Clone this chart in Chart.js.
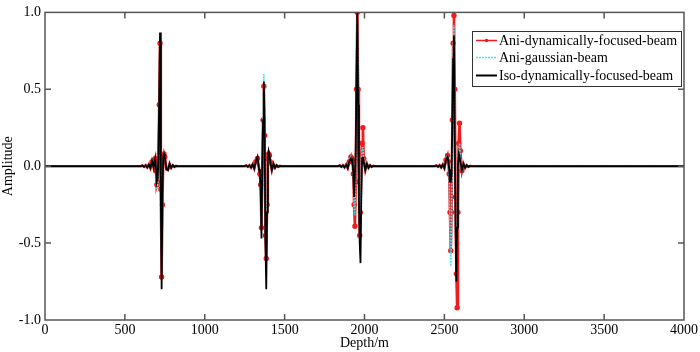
<!DOCTYPE html>
<html><head><meta charset="utf-8">
<script src="https://cdn.jsdelivr.net/npm/chart.js@4.4.1/dist/chart.umd.min.js"></script>
<style>html,body{margin:0;padding:0;background:#fff}#wrap{width:700px;height:352px}</style>
</head><body><div id="wrap"><canvas id="c" width="700" height="352"></canvas></div>
<script>
const depth = [0,
 600,610,620,630,640,650,660,670,680,685,690,695,700,705,710,715,720,725,730,735,740,745,750,755,760,770,780,790,800,810,820,830,840,
 1250,1260,1270,1280,1290,1300,1310,1320,1330,1335,1340,1345,1350,1355,1360,1365,1370,1375,1380,1385,1390,1395,1400,1405,1410,1420,1430,1440,1450,1460,1470,1480,1490,
 1835,1845,1855,1865,1875,1885,1895,1905,1915,1920,1925,1930,1935,1940,1945,1950,1955,1960,1965,1970,1975,1980,1985,1990,1995,2005,2015,2025,2035,2045,2055,2065,2075,
 2440,2450,2460,2470,2480,2490,2500,2510,2520,2525,2530,2535,2540,2545,2550,2555,2560,2565,2570,2575,2580,2585,2590,2595,2600,2610,2620,2630,2640,2650,2660,2670,2680,
 4000];

const isoDynamic = [0,
 0,0.004,-0.004,0.006,-0.008,0.01,-0.012,0.035,-0.01,0.03,0.05,-0.02,-0.1,-0.08,0.05,0.45,0.87,-0.2,-0.8,-0.2,0.06,0.08,0.06,0.02,-0.02,-0.025,0.015,-0.01,0.006,-0.004,0.002,0,0,
 0,0.004,-0.004,0.006,-0.008,0.012,-0.015,0.03,0.06,0.02,-0.02,-0.05,-0.15,-0.47,0.0,0.3,0.55,0.2,-0.5,-0.8,-0.3,0.05,0.1,0.08,0.03,-0.025,0.015,-0.01,0.006,-0.004,0.002,0,0,
 0,0.004,-0.004,0.006,-0.008,0.01,-0.012,0.03,0.05,0.03,0.04,-0.05,-0.2,-0.2,0.1,0.6,1.0,0.4,-0.2,-0.5,-0.63,-0.2,0.05,0.06,0.03,-0.025,0.015,-0.01,0.006,-0.004,0.002,0,0,
 0,0.004,-0.004,0.006,-0.008,0.01,-0.012,0.04,0.06,0.03,-0.02,-0.1,-0.1,-0.05,0.3,0.7,0.85,0.2,-0.4,-0.75,-0.4,0.0,0.08,0.06,0.03,-0.025,0.015,-0.01,0.006,-0.004,0.002,0,0,
 0];

const aniDynamic = [0,
 0,0.004,-0.004,0.006,-0.008,0.01,-0.012,0.03,-0.01,0.03,0.05,-0.03,-0.12,-0.1,0.04,0.4,0.8,-0.15,-0.72,-0.25,0.05,0.08,0.06,0.02,-0.02,-0.025,0.015,-0.01,0.006,-0.004,0.002,0,0,
 0,0.004,-0.004,0.006,-0.008,0.012,-0.015,0.03,0.05,0.02,-0.02,-0.05,-0.12,-0.4,0.0,0.3,0.52,0.2,-0.45,-0.6,-0.25,0.05,0.08,0.07,0.03,-0.025,0.015,-0.01,0.006,-0.004,0.002,0,0,
 0,0.004,-0.004,0.006,-0.008,0.01,-0.012,0.03,0.06,0.03,0.04,-0.05,-0.25,-0.39,-0.1,0.5,1.0,0.5,-0.1,-0.45,-0.3,0.05,0.15,0.25,0.05,-0.025,0.015,-0.01,0.006,-0.004,0.002,0,0,
 0,0.004,-0.004,0.006,-0.008,0.01,-0.012,0.04,0.07,0.03,-0.05,-0.3,-0.55,-0.3,0.3,0.8,0.98,0.5,-0.2,-0.7,-0.92,-0.3,0.15,0.28,0.1,-0.03,0.015,-0.01,0.006,-0.004,0.002,0,0,
 0];

const aniGaussian = [0,
 0,0.004,-0.004,0.006,-0.008,0.01,-0.012,0.03,-0.01,0.03,0.04,-0.04,-0.15,-0.12,0.03,0.38,0.78,-0.1,-0.7,-0.25,0.05,0.08,0.06,0.02,-0.02,-0.025,0.015,-0.01,0.006,-0.004,0.002,0,0,
 0,0.004,-0.004,0.006,-0.008,0.012,-0.015,0.03,0.05,0.02,-0.02,-0.05,-0.12,-0.38,0.02,0.35,0.6,0.22,-0.4,-0.6,-0.2,0.05,0.08,0.07,0.03,-0.025,0.015,-0.01,0.006,-0.004,0.002,0,0,
 0,0.004,-0.004,0.006,-0.008,0.01,-0.012,0.03,0.06,0.03,0.04,-0.05,-0.28,-0.32,-0.05,0.55,0.95,0.5,-0.1,-0.4,-0.3,0.05,0.12,0.12,0.04,-0.025,0.015,-0.01,0.006,-0.004,0.002,0,0,
 0,0.004,-0.004,0.006,-0.008,0.01,-0.012,0.04,0.07,0.03,-0.08,-0.4,-0.65,-0.45,0.2,0.75,0.92,0.45,-0.2,-0.55,-0.6,-0.2,0.1,0.15,0.06,-0.03,0.015,-0.01,0.006,-0.004,0.002,0,0,
 0];

const seriesNames = ['Ani-dynamically-focused-beam','Ani-gaussian-beam','Iso-dynamically-focused-beam'];
const xTicks = [0,500,1000,1500,2000,2500,3000,3500,4000];
const yTicks = [-1.0,-0.5,0.0,0.5,1.0];

const FONT = "'Liberation Serif','Times New Roman',serif";
const RED = '#ee1c1c', CYAN = '#3fe3f0', BLACK = '#000000';
const pts = v => depth.map((d,i)=>({x:d,y:v[i]}));

const framePlugin = {
  id:'frame',
  afterDraw(chart){
    const {ctx, chartArea:a, scales:{x,y}} = chart;
    ctx.save();
    ctx.strokeStyle = '#555';
    ctx.lineWidth = 1.5;
    const tl = 6;
    ctx.beginPath();
    xTicks.slice(1,-1).forEach(v=>{
      const px = x.getPixelForValue(v);
      ctx.moveTo(px,a.bottom); ctx.lineTo(px,a.bottom-tl);
      ctx.moveTo(px,a.top); ctx.lineTo(px,a.top+tl);
    });
    yTicks.slice(1,-1).forEach(v=>{
      const py = y.getPixelForValue(v);
      ctx.moveTo(a.left,py); ctx.lineTo(a.left+tl,py);
      ctx.moveTo(a.right,py); ctx.lineTo(a.right-tl,py);
    });
    ctx.stroke();
    ctx.strokeRect(a.left,a.top,a.right-a.left,a.bottom-a.top);
    // legend
    const lx=472, ly=31, lw=209, lh=55;
    ctx.fillStyle='#fff';
    ctx.fillRect(lx,ly,lw,lh);
    ctx.strokeStyle='#333'; ctx.lineWidth=1;
    ctx.strokeRect(lx+0.5,ly+0.5,lw,lh);
    const rows=[40.5,57.5,75.5];
    const styles=[{c:RED,w:1.5,d:[],m:true},{c:CYAN,w:1.5,d:[2,1],m:false},{c:BLACK,w:2,d:[],m:false}];
    ctx.font = '14px '+FONT;
    ctx.textBaseline='middle';
    rows.forEach((ry,i)=>{
      const s=styles[i];
      ctx.strokeStyle=s.c; ctx.lineWidth=s.w; ctx.setLineDash(s.d);
      ctx.beginPath(); ctx.moveTo(476,ry); ctx.lineTo(497,ry); ctx.stroke();
      ctx.setLineDash([]);
      if(s.m){ctx.fillStyle=s.c;ctx.beginPath();ctx.arc(486.5,ry,1.8,0,Math.PI*2);ctx.fill();}
      ctx.fillStyle='#000';
      ctx.fillText(seriesNames[i],499,ry+0.5);
    });
    ctx.restore();
  }
};

new Chart(document.getElementById('c'),{
  type:'scatter',
  data:{datasets:[
    {label:seriesNames[0],data:pts(aniDynamic),showLine:true,borderColor:RED,backgroundColor:RED,borderWidth:2.6,
     pointRadius:ctx=>{const r=ctx.raw; return r && Math.abs(r.y)>=0.03 ? 1.4 : 0;},pointHoverRadius:0,order:3},
    {label:seriesNames[1],data:pts(aniGaussian),showLine:true,borderColor:CYAN,borderDash:[2,1],borderWidth:1.5,pointRadius:0,order:2},
    {label:seriesNames[2],data:pts(isoDynamic),showLine:true,borderColor:BLACK,borderWidth:1.8,pointRadius:0,order:1}
  ]},
  options:{
    responsive:false,animation:false,
    layout:{padding:{top:9,right:16,left:0,bottom:0}},
    plugins:{legend:{display:false},tooltip:{enabled:false}},
    elements:{line:{tension:0}},
    scales:{
      x:{type:'linear',min:0,max:4000,
        afterBuildTicks(s){s.ticks=xTicks.map(v=>({value:v}));},
        afterFit(s){s.height=32;},
        grid:{display:false,drawTicks:false},border:{display:false},
        ticks:{padding:2,color:'#000',font:{family:FONT,size:14},callback:v=>String(v),maxRotation:0,autoSkip:false},
        title:{display:true,text:'Depth/m',color:'#000',font:{family:FONT,size:14},padding:{top:0,bottom:0}}
      },
      y:{type:'linear',min:-1,max:1,
        afterBuildTicks(s){s.ticks=yTicks.map(v=>({value:v}));},
        afterFit(s){s.width=45;},
        grid:{display:false,drawTicks:false},border:{display:false},
        ticks:{padding:4,color:'#000',font:{family:FONT,size:14},callback:v=>Number(v).toFixed(1)},
        title:{display:true,text:'Amplitude',color:'#000',font:{family:FONT,size:14},padding:{top:0,bottom:0}}
      }
    }
  },
  plugins:[framePlugin]
});
</script></body></html>
